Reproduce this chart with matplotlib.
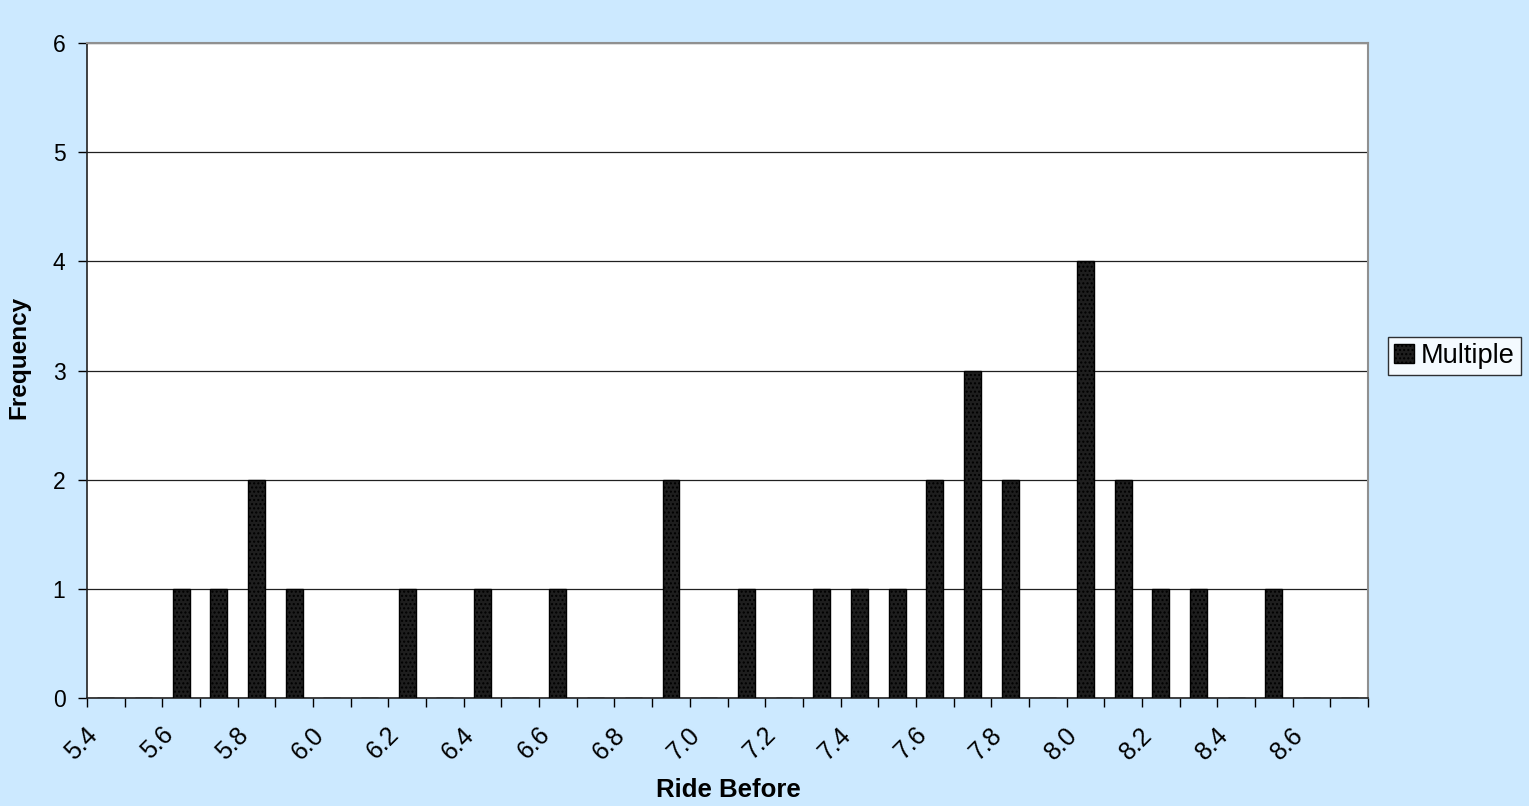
import matplotlib
matplotlib.use("Agg")
import matplotlib.pyplot as plt
from matplotlib.patches import Patch
import matplotlib.transforms as mtransforms

categories = [round(5.4 + 0.1 * i, 1) for i in range(34)]
values = [0, 0, 1, 1, 2, 1, 0, 0, 1, 0, 1, 0, 1, 0, 0, 2, 0, 1, 0, 1,
          1, 1, 2, 3, 2, 0, 4, 2, 1, 1, 0, 1, 0, 0]
tick_labels = ["5.4", "5.6", "5.8", "6.0", "6.2", "6.4", "6.6", "6.8", "7.0",
               "7.2", "7.4", "7.6", "7.8", "8.0", "8.2", "8.4", "8.6"]
series_name = "Multiple"

plt.rcParams['font.family'] = ['Liberation Sans', 'DejaVu Sans']
plt.rcParams['hatch.color'] = '#555555'
W, H = 1529, 806
fig = plt.figure(figsize=(W / 100, H / 100), dpi=100)
fig.patch.set_facecolor('#CCE9FF')
L, R, T, B = 87, 1368, 43, 698
ax = fig.add_axes([L / W, 1 - B / H, (R - L) / W, (B - T) / H])
ax.set_facecolor('white')

x = [i + 0.5 for i in range(len(categories))]
ax.bar(x, values, width=0.45, color='#1e1e1e', edgecolor='black', linewidth=1,
       hatch='....', zorder=3)

ax.set_xlim(0, len(categories))
ax.set_ylim(0, 6)
ax.set_yticks(range(7))
ax.yaxis.grid(True, color='#202020', linewidth=0.9, zorder=1)
ax.set_xticks(range(len(categories) + 1))
ax.set_xticklabels([])
ax.tick_params(axis='x', length=6.5, width=1, color='black', direction='out')
ax.tick_params(axis='y', length=6.5, width=1, color='black', direction='out',
               labelsize=16.5, pad=9)

for s in ['top', 'right']:
    ax.spines[s].set_color('#909090')
    ax.spines[s].set_linewidth(1.5)
for s in ['left', 'bottom']:
    ax.spines[s].set_color('#222222')
    ax.spines[s].set_linewidth(1.2)

trans = ax.get_xaxis_transform()
off = mtransforms.ScaledTranslation(7 / 100, -33 / 100, fig.dpi_scale_trans)
for j, lab in enumerate(tick_labels):
    ax.text(2 * j, 0, lab, transform=trans + off, rotation=45,
            rotation_mode='anchor', ha='right', va='center', fontsize=18)

fig.text(728 / W, 1 - 790 / H, 'Ride Before', ha='center', va='center',
         fontsize=18.5, fontweight='bold')
fig.text(19 / W, 1 - 357 / H, 'Frequency', ha='center', va='center',
         rotation=90, fontsize=17.5, fontweight='bold')

handle = Patch(facecolor='#1e1e1e', edgecolor='black', hatch='....')
leg = fig.legend([handle], [series_name], loc='center left',
                 bbox_to_anchor=(1388 / W, 1 - 356 / H), frameon=True,
                 fancybox=False, fontsize=19.5, handlelength=0.75,
                 handleheight=0.7, handletextpad=0.25, borderpad=0.22,
                 borderaxespad=0)
leg.get_frame().set_edgecolor('black')
leg.get_frame().set_facecolor('white')
leg.get_frame().set_linewidth(1)

fig.savefig('out.png', dpi=100, facecolor=fig.get_facecolor())
